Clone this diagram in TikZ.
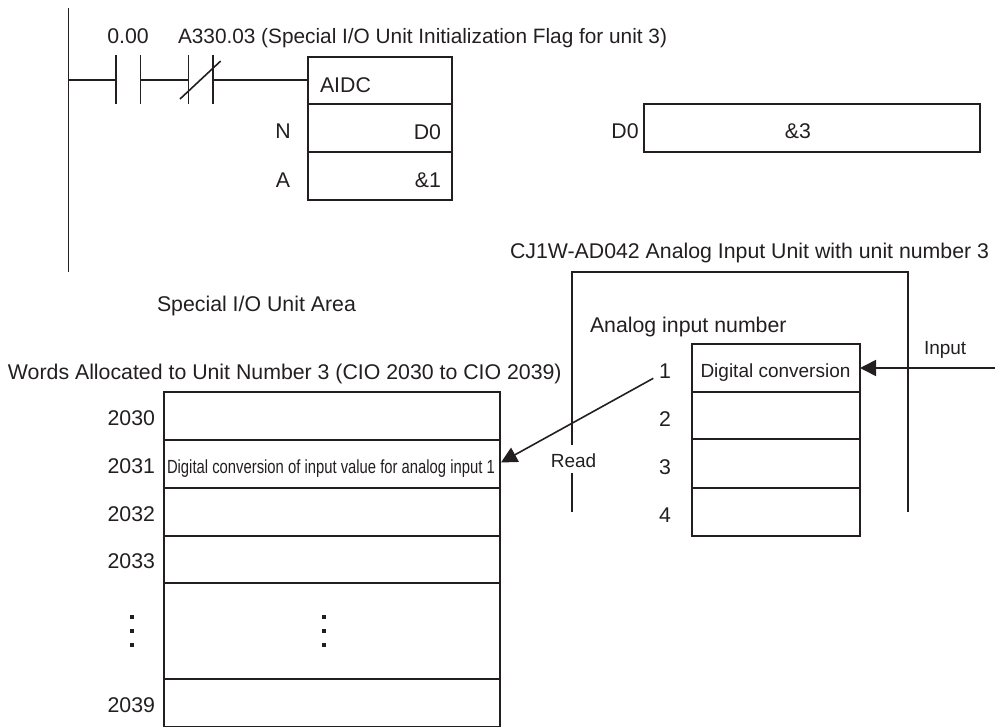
\documentclass[tikz,border=0pt]{standalone}
\usepackage{fontspec}
\usepackage{graphicx}
\setmainfont{Liberation Sans}
\usetikzlibrary{arrows.meta}
\definecolor{ink}{HTML}{231F20}
\tikzset{
  lbl/.style={inner sep=0pt,outer sep=0pt,text height=15pt,text depth=0pt,text=ink,font=\fontsize{21.3}{24}\selectfont},
  small/.style={lbl,text height=14pt,font=\fontsize{19}{22}\selectfont},
  wire/.style={draw=ink,line width=1.6pt},
  heavy/.style={draw=ink,line width=2pt},
  cell/.style={draw=ink,line width=1.7pt,inner sep=0pt,outer sep=0pt,anchor=north west},
  tip/.style={-{Triangle[length=16pt,width=16pt,color=ink]}},
  dotmark/.style={fill=ink,draw=none,minimum size=4pt,inner sep=0pt,outer sep=0pt}
}
\begin{document}
\begin{tikzpicture}[x=1pt,y=-1pt]
\path[use as bounding box] (0,0) rectangle (995,727);
% ladder rail
\coordinate (railtop) at (68.3,8);
\coordinate (railbot) at (68.3,272);
\coordinate (rung) at (68.3,80);
\draw[wire] (railtop) -- (railbot);
% contacts
\coordinate (noa) at (116,80); \coordinate (nob) at (140.3,80);
\coordinate (nca) at (188.3,80); \coordinate (ncb) at (212.7,80);
\coordinate (sla) at (180,99); \coordinate (slb) at (220.7,61);
\draw[wire] (116,55) -- (116,104);
\draw[wire] (140.3,55) -- (140.3,104);
\draw[wire] (188.3,55) -- (188.3,104);
\draw[wire] (212.7,55) -- (212.7,104);
\draw[wire] (sla) -- (slb);
% instruction box
\node[cell,minimum width=144pt,minimum height=47.3pt] (aidc) at (308.3,56.7) {};
\node[cell,minimum width=144pt,minimum height=48.3pt] (nrow) at (308.3,104) {};
\node[cell,minimum width=144pt,minimum height=47.7pt] (arow) at (308.3,152.3) {};
\draw[wire] (rung) -- (noa);
\draw[wire] (nob) -- (nca);
\draw[wire] (ncb) -- (aidc.west |- rung);
\node[lbl,anchor=west] (taidc) at (320,85) {AIDC};
\node[lbl,anchor=east] (td0) at (441,132) {D0};
\node[lbl,anchor=east] (tamp) at (441,180) {\&1};
\node[lbl] (tn) at (283,131) {N};
\node[lbl] (ta) at (283,180) {A};
\node[lbl] (t000) at (128,36) {0.00};
\node[lbl,anchor=west,font=\fontsize{20.8}{24}\selectfont] (tflag) at (178,36) {A330.03 (Special I/O Unit Initialization Flag for unit 3)};
% D0 box
\node[lbl] (dlab) at (625,131) {D0};
\node[cell,minimum width=336pt,minimum height=48pt] (dbox) at (644,104) {};
\node[lbl] (d3) at (798,131) {\&3};
% titles
\node[lbl,anchor=west] (tunit) at (510,251) {CJ1W-AD042 Analog Input Unit with unit number 3};
\node[lbl,anchor=west] (tarea) at (157,304) {Special I/O Unit Area};
\node[lbl,anchor=west] (twords) at (8,372) {Words Allocated to Unit Number 3 (CIO 2030 to CIO 2039)};
\node[lbl,anchor=west] (tanalog) at (590,325) {Analog input number};
% unit frame
\coordinate (fa) at (572,445); \coordinate (fb) at (572,272);
\coordinate (fc) at (908,272); \coordinate (fd) at (908,512);
\coordinate (fe) at (572,473); \coordinate (ff) at (572,512);
\draw[heavy,line join=miter] (fa) -- (fb) -- (fc) -- (fd);
\draw[heavy] (fe) -- (ff);
% analog input cells
\node[cell,minimum width=167.7pt,minimum height=47.7pt] (ai1) at (692.3,344) {};
\node[cell,minimum width=167.7pt,minimum height=47.6pt] (ai2) at (692.3,391.7) {};
\node[cell,minimum width=167.7pt,minimum height=48.4pt] (ai3) at (692.3,439.3) {};
\node[cell,minimum width=167.7pt,minimum height=48.3pt] (ai4) at (692.3,487.7) {};
\node[small,anchor=west] (tdig) at (700.5,370) {Digital conversion};
\node[lbl] (n1) at (665,371) {1};
\node[lbl] (n2) at (665,419) {2};
\node[lbl] (n3) at (665,467) {3};
\node[lbl] (n4) at (665,515) {4};
\node[small,anchor=west] (tinput) at (924,347) {Input};
\node[small] (tread) at (573.5,460) {Read};
% word table
\node[cell,minimum width=336.3pt,minimum height=48pt] (w0) at (164,392) {};
\node[cell,minimum width=336.3pt,minimum height=48pt] (w1) at (164,440) {};
\node[cell,minimum width=336.3pt,minimum height=47.7pt] (w2) at (164,488) {};
\node[cell,minimum width=336.3pt,minimum height=47.6pt] (w3) at (164,535.7) {};
\node[cell,minimum width=336.3pt,minimum height=96pt] (w4) at (164,583.3) {};
\node[cell,minimum width=336.3pt,minimum height=48pt] (w5) at (164,679.3) {};
\node[lbl,anchor=east] (l0) at (155,418) {2030};
\node[lbl,anchor=east] (l1) at (155,466) {2031};
\node[lbl,anchor=east] (l2) at (155,514) {2032};
\node[lbl,anchor=east] (l3) at (155,561) {2033};
\node[lbl,anchor=east] (l9) at (155,705) {2039};
\node[small,anchor=west] (tconv) at (167,466) {\scalebox{0.78}[1]{Digital conversion of input value for analog input 1}};
\foreach \yy [count=\i] in {617,631,645}{
  \node[dotmark] (da\i) at (132,\yy) {};
  \node[dotmark] (db\i) at (323.7,\yy) {};
}
% arrows
\coordinate (inend) at (995,368);
\coordinate (rdstart) at (653.3,378.3);
\coordinate (rdtip) at (501,462.5);
\draw[wire,tip] (inend) -- (ai1.east |- inend);
\draw[wire,tip] (rdstart) -- (rdtip);
\end{tikzpicture}
\end{document}
